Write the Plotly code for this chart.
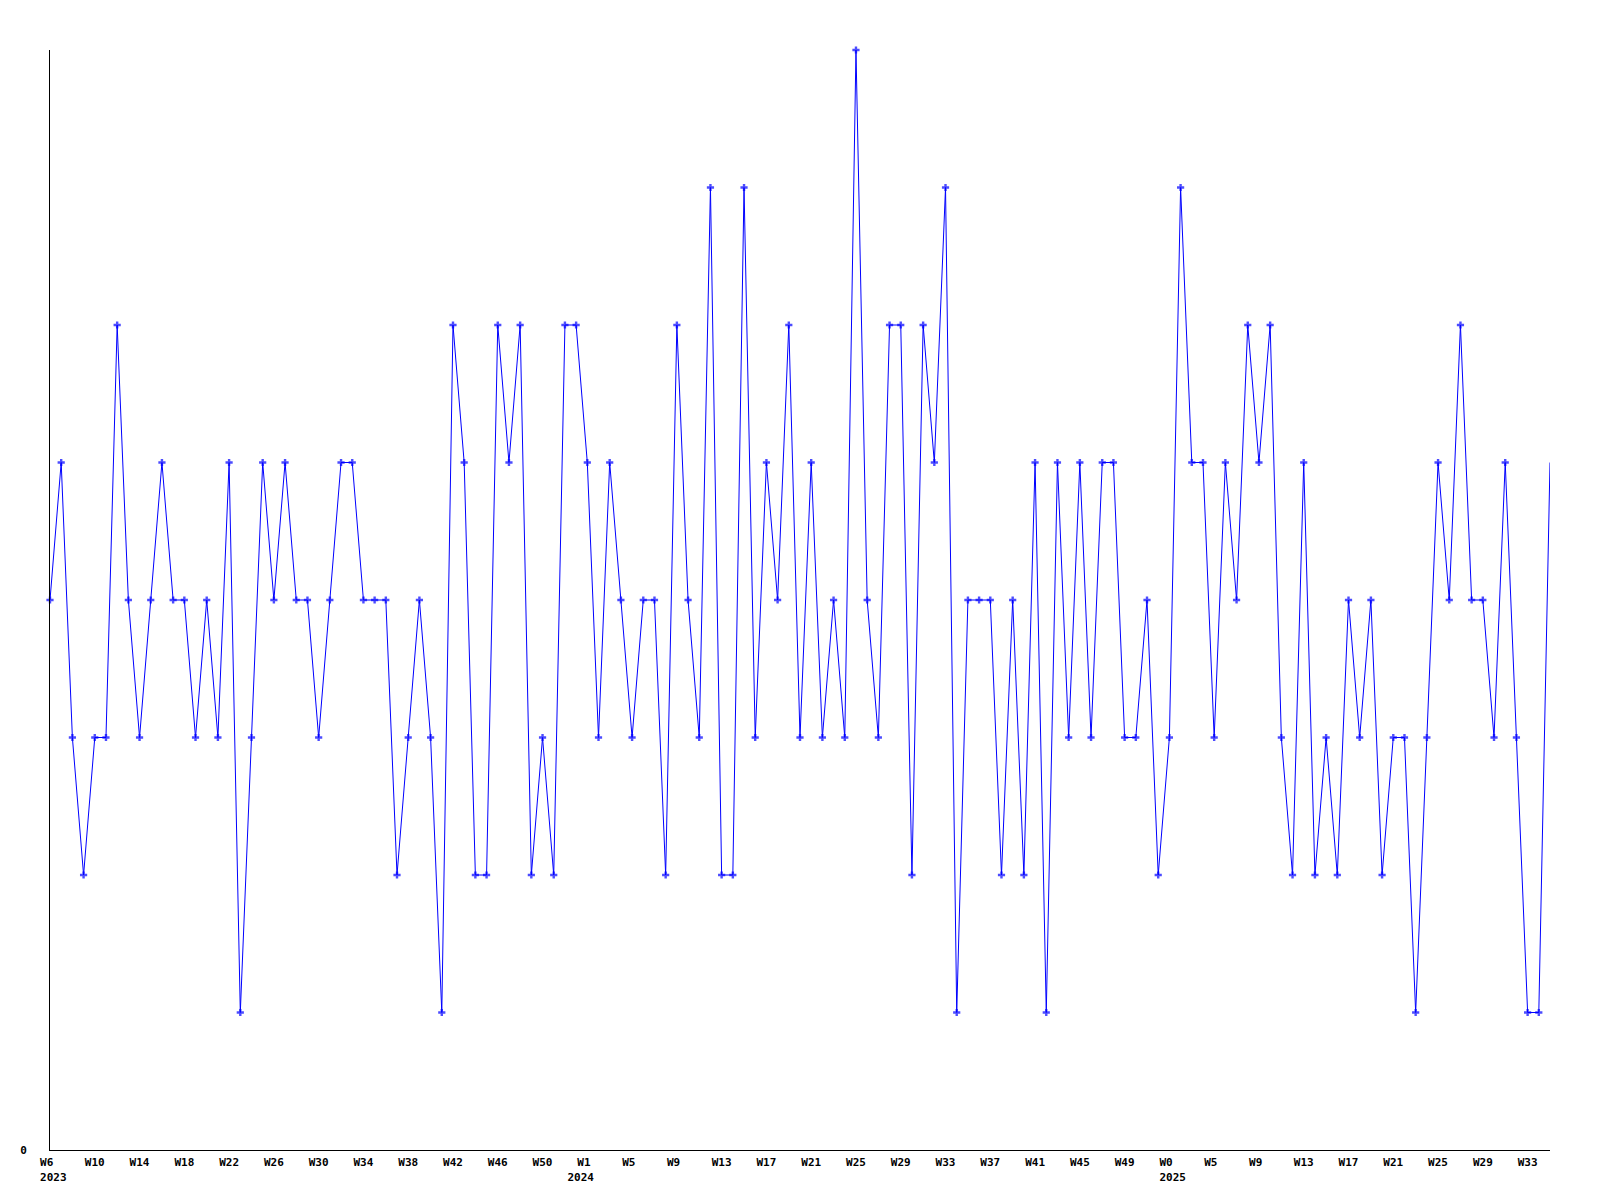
import plotly.graph_objects as go

# Weekly values, one per week from W6 2023 to W35 2025
values = [4, 5, 3, 2, 3, 3, 6, 4, 3, 4,
          5, 4, 4, 3, 4, 3, 5, 1, 3, 5,
          4, 5, 4, 4, 3, 4, 5, 5, 4, 4,
          4, 2, 3, 4, 3, 1, 6, 5, 2, 2,
          6, 5, 6, 2, 3, 2, 6, 6, 5, 3,
          5, 4, 3, 4, 4, 2, 6, 4, 3, 7,
          2, 2, 7, 3, 5, 4, 6, 3, 5, 3,
          4, 3, 8, 4, 3, 6, 6, 2, 6, 5,
          7, 1, 4, 4, 4, 2, 4, 2, 5, 1,
          5, 3, 5, 3, 5, 5, 3, 3, 4, 2,
          3, 7, 5, 5, 3, 5, 4, 6, 5, 6,
          3, 2, 5, 2, 3, 2, 4, 3, 4, 2,
          3, 3, 1, 3, 5, 4, 6, 4, 4, 3,
          5, 3, 1, 1, 5]

# Tick labels (one every 4 weeks) and the year shown under the first tick of each year
week_labels = ["W6", "W10", "W14", "W18", "W22", "W26", "W30", "W34", "W38", "W42", "W46", "W50",
               "W1", "W5", "W9", "W13", "W17", "W21", "W25", "W29", "W33", "W37", "W41", "W45", "W49",
               "W0", "W5", "W9", "W13", "W17", "W21", "W25", "W29", "W33"]
year_labels = {0: "2023", 12: "2024", 25: "2025"}
tick_step = 4

NB = "\u00a0"
# small text nudges so labels sit like the original (left/right padding in characters)
year_pad = {0: (1, 0), 12: (0, 2), 25: (1, 0)}

x = list(range(len(values)))
tickvals = [i * tick_step for i in range(len(week_labels))]
ticktext = []
for k, w in enumerate(week_labels):
    w_pad = w + NB * (3 - len(w))
    if k in year_labels:
        lp, rp = year_pad[k]
        ticktext.append(w_pad + "<br>" + NB * lp + year_labels[k] + NB * rp)
    else:
        ticktext.append(w_pad)

sizes = [6] * (len(values) - 1) + [0]

fig = go.Figure()
fig.add_trace(go.Scatter(
    x=x, y=values, mode="lines+markers",
    line=dict(color="#0000FF", width=1),
    marker=dict(symbol="cross", size=sizes, color="#0000FF", line=dict(width=0)),
    cliponaxis=False, showlegend=False, hoverinfo="x+y",
))

font = dict(family="DejaVu Sans Mono", size=11, color="black", weight="bold")
fig.update_layout(
    width=1600, height=1200,
    margin=dict(l=50, r=50, t=50, b=50),
    paper_bgcolor="white", plot_bgcolor="white",
    font=font,
    xaxis=dict(range=[0, len(values) - 1], tickvals=tickvals, ticktext=ticktext,
               showgrid=False, zeroline=False, showline=True, linecolor="black", linewidth=1,
               ticks="", tickfont=font, ticklabelstandoff=2),
    yaxis=dict(range=[0, max(values)], tickvals=[0], ticktext=["0"],
               showgrid=False, zeroline=False, showline=True, linecolor="black", linewidth=1,
               ticks="", tickfont=font, ticklabelstandoff=20),
)

fig.write_html("out.html", config={"displayModeBar": False},
               post_script="document.body.style.margin='0';")
